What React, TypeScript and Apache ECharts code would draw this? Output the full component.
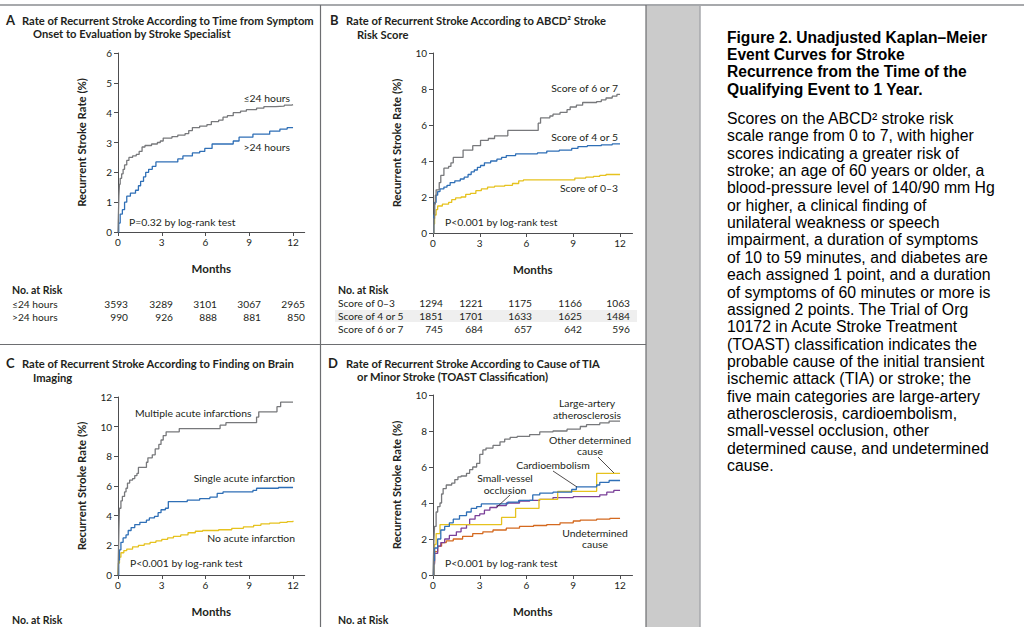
import React, { useEffect, useRef } from "react";
import * as echarts from "echarts";

// ---------- data ----------
const monthTicks = [0, 3, 6, 9, 12];

// Panel A
const aLe24: [number, number][] = [[0,0],[0.03,0.6],[0.06,1.2],[0.1,1.6],[0.15,1.8],[0.25,1.95],[0.35,2.1],[0.45,2.25],[0.6,2.4],[0.75,2.5],[1.0,2.55],[1.25,2.6],[1.45,2.7],[1.65,2.85],[1.85,2.9],[2.3,2.95],[2.7,3.0],[2.9,3.05],[3.1,3.15],[3.7,3.2],[4.1,3.25],[4.6,3.3],[4.85,3.4],[5.1,3.5],[5.6,3.55],[6.1,3.6],[6.4,3.7],[6.9,3.75],[7.2,3.85],[7.5,3.9],[7.9,4.0],[8.4,4.05],[8.8,4.1],[9.5,4.15],[10.0,4.2],[10.8,4.22],[11.4,4.25],[11.9,4.27],[12,4.27]];
const aGt24: [number, number][] = [[0,0],[0.05,0.3],[0.15,0.6],[0.3,0.75],[0.45,1.0],[0.6,1.2],[0.85,1.3],[1.2,1.4],[1.4,1.55],[1.55,1.7],[1.75,1.85],[1.9,2.0],[2.1,2.1],[2.35,2.2],[2.6,2.35],[4.1,2.45],[4.45,2.55],[5.1,2.65],[5.6,2.7],[5.95,2.8],[6.45,2.95],[7.9,3.05],[8.3,3.18],[9.25,3.28],[10.4,3.38],[11.1,3.45],[11.6,3.5],[12,3.52]];
const aRiskLabels = ["\u226424 hours", ">24 hours"];
const aRiskLe24 = [3593, 3289, 3101, 3067, 2965];
const aRiskGt24 = [990, 926, 888, 881, 850];

// Panel B
const b67: [number, number][] = [[0,0],[0.05,0.8],[0.1,1.6],[0.15,2.1],[0.2,2.4],[0.4,2.8],[0.5,3.2],[0.7,3.6],[1.0,3.7],[1.15,3.9],[1.3,4.2],[1.93,4.6],[2.55,4.85],[3.05,5.15],[3.55,5.25],[3.95,5.4],[4.8,5.7],[6.75,6.1],[6.9,6.4],[7.5,6.5],[7.7,6.6],[8.15,6.7],[8.6,6.85],[8.8,7.0],[9.2,7.1],[9.6,7.25],[10.5,7.3],[10.8,7.4],[11.1,7.5],[11.5,7.6],[11.8,7.7],[12,7.7]];
const b45: [number, number][] = [[0,0],[0.05,1.0],[0.1,1.7],[0.2,2.1],[0.3,2.3],[0.45,2.45],[0.7,2.55],[0.9,2.65],[1.1,2.8],[1.4,2.9],[1.75,3.0],[2.0,3.1],[2.25,3.25],[2.45,3.4],[2.65,3.5],[2.85,3.65],[3.05,3.75],[3.3,3.9],[3.7,4.0],[4.1,4.1],[4.4,4.2],[4.7,4.3],[5.3,4.4],[6.7,4.45],[7.3,4.55],[8.1,4.6],[8.9,4.7],[9.3,4.8],[9.9,4.85],[10.8,4.9],[11.5,4.95],[12,4.95]];
const b03: [number, number][] = [[0,0],[0.05,0.5],[0.1,1.0],[0.2,1.3],[0.3,1.5],[0.6,1.6],[1.0,1.7],[1.2,1.85],[1.45,1.95],[1.8,2.0],[2.1,2.15],[2.4,2.2],[2.75,2.35],[3.1,2.45],[3.5,2.55],[3.95,2.6],[4.6,2.65],[5.1,2.75],[5.5,2.9],[5.8,2.95],[9.1,3.05],[9.8,3.1],[10.3,3.15],[10.7,3.2],[11.1,3.25],[12,3.25]];
const bRiskLabels = ["Score of 0\u20133", "Score of 4 or 5", "Score of 6 or 7"];
const bRisk03 = [1294, 1221, 1175, 1166, 1063];
const bRisk45 = [1851, 1701, 1633, 1625, 1484];
const bRisk67 = [745, 684, 657, 642, 596];

// Panel C
const cMulti: [number, number][] = [[0,0],[0.03,1.5],[0.06,3.0],[0.1,4.5],[0.2,5.0],[0.3,5.3],[0.45,5.6],[0.55,5.85],[0.65,6.2],[0.8,6.4],[1.0,6.5],[1.15,6.7],[1.3,6.85],[1.4,7.25],[1.95,7.6],[2.05,7.9],[2.35,8.1],[2.55,8.5],[2.8,8.8],[2.95,9.1],[3.1,9.4],[3.3,9.65],[4.2,9.87],[7.0,10.1],[7.4,10.27],[9.5,10.65],[9.65,11.0],[10.9,11.35],[11.15,11.65],[12,11.65]];
const cSingle: [number, number][] = [[0,0],[0.05,1.0],[0.1,1.7],[0.2,2.2],[0.35,2.5],[0.55,2.7],[0.7,3.0],[0.9,3.2],[1.15,3.4],[1.5,3.55],[1.95,3.7],[2.15,3.85],[2.5,3.95],[2.75,4.2],[2.95,4.4],[3.25,4.5],[3.45,4.95],[4.75,5.05],[5.6,5.15],[6.3,5.25],[6.8,5.5],[7.2,5.6],[9.25,5.7],[9.5,5.85],[11.0,5.9],[12,5.92]];
const cNone: [number, number][] = [[0,0],[0.03,0.8],[0.1,1.2],[0.2,1.5],[0.4,1.65],[0.6,1.75],[1.0,1.9],[1.4,2.0],[1.8,2.1],[2.2,2.2],[2.6,2.3],[3.0,2.4],[3.4,2.5],[3.8,2.6],[4.3,2.7],[4.8,2.85],[5.3,2.95],[5.8,3.0],[6.9,3.05],[7.8,3.15],[8.6,3.25],[9.3,3.35],[9.8,3.45],[10.4,3.5],[11.1,3.55],[11.6,3.6],[12,3.65]];

// Panel D
const dLarge: [number, number][] = [[0,0],[0.03,1.0],[0.06,2.0],[0.1,2.7],[0.2,3.5],[0.3,3.8],[0.45,4.0],[0.55,4.5],[0.65,4.8],[0.85,5.0],[1.2,5.1],[1.4,5.3],[1.6,5.45],[1.8,5.5],[2.15,5.65],[2.35,5.85],[2.55,6.0],[2.8,6.2],[3.0,6.7],[3.2,6.95],[3.4,7.05],[3.85,7.2],[4.3,7.4],[4.6,7.55],[4.95,7.65],[5.4,7.7],[6.2,7.8],[6.85,7.95],[7.7,8.0],[8.6,8.1],[9.45,8.25],[9.85,8.35],[10.7,8.45],[11.3,8.55],[12,8.55]];
const dCardio: [number, number][] = [[0,0],[0.05,0.8],[0.1,1.5],[0.3,2.0],[0.5,2.5],[0.75,2.7],[1.05,2.9],[1.3,3.1],[1.7,3.3],[2.15,3.5],[2.45,3.7],[2.8,3.8],[3.1,3.95],[4.8,4.05],[5.5,4.15],[6.4,4.45],[6.85,4.55],[7.7,4.6],[8.9,4.75],[9.2,4.9],[10.5,5.0],[10.7,5.15],[11.3,5.25],[12,5.25]];
const dOther: [number, number][] = [[0,0],[0.05,1.2],[0.1,1.7],[0.2,2.3],[0.45,2.8],[4.4,3.2],[5.3,3.7],[6.8,4.2],[8.0,4.65],[10.5,5.65],[12,5.65]];
const dSmall: [number, number][] = [[0,0],[0.05,0.6],[0.1,1.2],[0.3,1.6],[0.5,1.8],[0.75,2.0],[1.05,2.2],[1.5,2.4],[1.8,2.6],[2.15,2.8],[2.35,3.1],[2.7,3.3],[3.0,3.4],[3.3,3.6],[3.65,3.75],[4.1,3.85],[4.7,4.0],[5.55,4.1],[6.2,4.15],[6.85,4.2],[7.7,4.3],[9.0,4.35],[10.7,4.45],[11.15,4.6],[11.6,4.7],[12,4.7]];
const dUndet: [number, number][] = [[0,0],[0.05,0.7],[0.1,1.3],[0.3,1.6],[0.55,1.8],[0.85,1.9],[1.3,2.0],[1.9,2.15],[2.55,2.3],[3.2,2.4],[3.85,2.5],[4.7,2.6],[5.55,2.7],[6.45,2.75],[7.3,2.8],[8.15,2.9],[9.0,3.0],[9.45,3.05],[10.5,3.1],[11.35,3.15],[12,3.15]];

const captionTitle = [
  "Figure 2. Unadjusted Kaplan\u2013Meier",
  "Event Curves for Stroke",
  "Recurrence from the Time of the",
  "Qualifying Event to 1 Year.",
];
const captionBody = [
  "Scores on the ABCD\u00b2 stroke risk",
  "scale range from 0 to 7, with higher",
  "scores indicating a greater risk of",
  "stroke; an age of 60 years or older, a",
  "blood-pressure level of 140/90 mm Hg",
  "or higher, a clinical finding of",
  "unilateral weakness or speech",
  "impairment, a duration of symptoms",
  "of 10 to 59 minutes, and diabetes are",
  "each assigned 1 point, and a duration",
  "of symptoms of 60 minutes or more is",
  "assigned 2 points. The Trial of Org",
  "10172 in Acute Stroke Treatment",
  "(TOAST) classification indicates the",
  "probable cause of the initial transient",
  "ischemic attack (TIA) or stroke; the",
  "five main categories are large-artery",
  "atherosclerosis, cardioembolism,",
  "small-vessel occlusion, other",
  "determined cause, and undetermined",
  "cause.",
];

// ---------- style ----------
const FONT = 'Lato, "Noto Sans", sans-serif';
const CAP = '"Liberation Sans", Arial, sans-serif';
const INK = "#231f20";
const GRAY = "#77787b";
const BLUE = "#2f6fb6";
const YELLOW = "#e6c21e";
const PURPLE = "#7a3f98";
const ORANGE = "#d4691f";
const AXIS = "#4d4d4f";

function txt(x: number, y: number, text: string, font: string, align = "left", fill = INK, extra: any = {}) {
  return {
    type: "text",
    x,
    y,
    z: 10,
    silent: true,
    ...extra,
    style: { text, font, fill, align, textAlign: align, verticalAlign: "middle", textVerticalAlign: "middle" },
  };
}
function ln(x1: number, y1: number, x2: number, y2: number, stroke: string, lineWidth = 1) {
  return { type: "line", z: 5, silent: true, shape: { x1, y1, x2, y2 }, style: { stroke, lineWidth } };
}

export default function App() {
  const ref = useRef<HTMLDivElement>(null);
  useEffect(() => {
    if (!ref.current) return;
    const chart = echarts.init(ref.current, undefined, { renderer: "svg" });

    const grids = [
      { left: 118, top: 53, width: 186.7, height: 179 },
      { left: 433, top: 53, width: 199.5, height: 180 },
      { left: 118, top: 397, width: 186.7, height: 178 },
      { left: 433, top: 395, width: 199.5, height: 180 },
    ];
    const yMax = [6, 10, 12, 10];
    const yInt = [1, 2, 2, 2];

    const xAxes = grids.map((_, i) => ({
      type: "value",
      gridIndex: i,
      min: 0,
      max: 12.8,
      name: "Months",
      nameLocation: "middle",
      nameGap: 30,
      nameTextStyle: { fontFamily: FONT, fontWeight: "bold", fontSize: 11.5, color: INK },
      axisLine: { show: true, lineStyle: { color: AXIS, width: 1 } },
      axisTick: { show: true, length: 4, customValues: monthTicks, lineStyle: { color: AXIS } },
      axisLabel: { customValues: monthTicks, fontFamily: FONT, fontSize: 10, color: INK, margin: 5 },
      splitLine: { show: false },
    }));
    const yAxes = grids.map((_, i) => ({
      type: "value",
      gridIndex: i,
      min: 0,
      max: yMax[i],
      interval: yInt[i],
      name: "Recurrent Stroke Rate (%)",
      nameLocation: "middle",
      nameGap: 31,
      nameTextStyle: { fontFamily: FONT, fontWeight: "bold", fontSize: 11.3, color: INK },
      axisLine: { show: true, lineStyle: { color: AXIS, width: 1 } },
      axisTick: { show: true, length: 4, lineStyle: { color: AXIS } },
      axisLabel: { fontFamily: FONT, fontSize: 10, color: INK, margin: 6 },
      splitLine: { show: false },
    }));

    const mk = (data: [number, number][], color: string, idx: number) => ({
      type: "line",
      step: "end",
      xAxisIndex: idx,
      yAxisIndex: idx,
      data,
      symbol: "none",
      showSymbol: false,
      lineStyle: { color, width: 1.3 },
      silent: true,
    });

    const series = [
      mk(aGt24, BLUE, 0),
      mk(aLe24, GRAY, 0),
      mk(b03, YELLOW, 1),
      mk(b45, BLUE, 1),
      mk(b67, GRAY, 1),
      mk(cNone, YELLOW, 2),
      mk(cSingle, BLUE, 2),
      mk(cMulti, GRAY, 2),
      mk(dUndet, ORANGE, 3),
      mk(dSmall, PURPLE, 3),
      mk(dOther, YELLOW, 3),
      mk(dCardio, BLUE, 3),
      mk(dLarge, GRAY, 3),
    ];

    const TITLE = `bold 11.2px ${FONT}`;
    const LETTER = `bold 13px ${FONT}`;
    const ANN = `10.4px ${FONT}`;
    const TBL = `10.2px ${FONT}`;
    const TBLB = `bold 10.5px ${FONT}`;

    const aCols = [128, 173, 217, 261, 305];
    const bCols = [443, 483, 532, 582, 630];

    const g: any[] = [
      // backgrounds / frame
      { type: "rect", z: 0, silent: true, shape: { x: 646, y: 5, width: 54, height: 622 }, style: { fill: "#cbcbcb" } },
      { type: "rect", z: 0, silent: true, shape: { x: 335, y: 310, width: 302, height: 12 }, style: { fill: "#efefef" } },
      ln(0, 5, 1024, 5, "#a7a9ac", 2),
      ln(320.5, 5, 320.5, 627, "#6d6e71", 1.2),
      ln(0, 344.5, 646, 344.5, "#6d6e71", 1.2),
      ln(646, 5, 646, 627, "#6d6e71", 1.2),
      ln(700, 5, 700, 627, "#a7a9ac", 1.5),

      // panel titles
      txt(6, 20, "A", LETTER),
      txt(22, 20, "Rate of Recurrent Stroke According to Time from Symptom", TITLE),
      txt(33, 33, "Onset to Evaluation by Stroke Specialist", TITLE),
      txt(330, 20, "B", LETTER),
      txt(346, 20, "Rate of Recurrent Stroke According to ABCD\u00b2 Stroke", TITLE),
      txt(357, 34, "Risk Score", TITLE),
      txt(6, 363, "C", LETTER),
      txt(22, 363, "Rate of Recurrent Stroke According to Finding on Brain", TITLE),
      txt(33, 377, "Imaging", TITLE),
      txt(328, 363, "D", LETTER),
      txt(346, 363, "Rate of Recurrent Stroke According to Cause of TIA", TITLE),
      txt(357, 376, "or Minor Stroke (TOAST Classification)", TITLE),

      // panel A annotations
      txt(290, 98, "\u226424 hours", ANN, "right"),
      txt(290, 147, ">24 hours", ANN, "right"),
      txt(129, 222, "P=0.32 by log-rank test", ANN),
      // panel B annotations
      txt(618, 88, "Score of 6 or 7", ANN, "right"),
      txt(618, 137, "Score of 4 or 5", ANN, "right"),
      txt(618, 188, "Score of 0\u20133", ANN, "right"),
      txt(445, 222, "P<0.001 by log-rank test", ANN),
      // panel C annotations
      txt(135, 413, "Multiple acute infarctions", ANN),
      txt(295, 478, "Single acute infarction", ANN, "right"),
      txt(295, 538, "No acute infarction", ANN, "right"),
      txt(130, 563, "P<0.001 by log-rank test", ANN),
      // panel D annotations
      txt(587, 403, "Large-artery", ANN, "center"),
      txt(587, 415, "atherosclerosis", ANN, "center"),
      txt(590, 440, "Other determined", ANN, "center"),
      txt(590, 451, "cause", ANN, "center"),
      ln(598, 457, 614, 473, INK, 0.8),
      txt(553, 465, "Cardioembolism", ANN, "center"),
      ln(553, 471, 577, 487, INK, 0.8),
      txt(505, 478, "Small-vessel", ANN, "center"),
      txt(505, 490, "occlusion", ANN, "center"),
      ln(510, 495, 497, 507, INK, 0.8),
      txt(595, 533, "Undetermined", ANN, "center"),
      txt(595, 544, "cause", ANN, "center"),
      txt(445, 563, "P<0.001 by log-rank test", ANN),

      // risk tables
      txt(12, 290, "No. at Risk", TBLB),
      txt(12, 304, aRiskLabels[0], TBL),
      txt(12, 317, aRiskLabels[1], TBL),
      ...aRiskLe24.map((v, i) => txt(aCols[i], 304, String(v), TBL, "right")),
      ...aRiskGt24.map((v, i) => txt(aCols[i], 317, String(v), TBL, "right")),
      txt(338, 290, "No. at Risk", TBLB),
      ...bRiskLabels.map((s, r) => txt(338, 303 + r * 13, s, TBL)),
      ...bRisk03.map((v, i) => txt(bCols[i], 303, String(v), TBL, "right")),
      ...bRisk45.map((v, i) => txt(bCols[i], 316, String(v), TBL, "right")),
      ...bRisk67.map((v, i) => txt(bCols[i], 329, String(v), TBL, "right")),
      txt(12, 620, "No. at Risk", TBLB),
      txt(338, 620, "No. at Risk", TBLB),

      // caption
      ...captionTitle.map((s, i) => txt(727, 37 + i * 17.35, s, `bold 15.6px ${CAP}`, "left", "#000")),
      ...captionBody.map((s, i) => txt(727, 118.5 + i * 17.35, s, `15.8px ${CAP}`, "left", "#000")),
    ];

    chart.setOption({
      animation: false,
      backgroundColor: "#ffffff",
      grid: grids.map((gr) => ({ ...gr, containLabel: false })),
      xAxis: xAxes,
      yAxis: yAxes,
      series,
      graphic: { elements: g },
    });
    return () => chart.dispose();
  }, []);

  return (
    <div
      ref={ref}
      style={{ position: "fixed", left: 0, top: 0, width: 1024, height: 627, background: "#fff" }}
    />
  );
}
